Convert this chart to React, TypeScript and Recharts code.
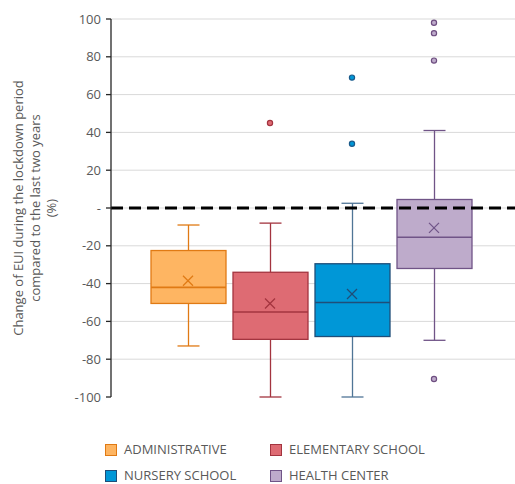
import { ComposedChart, Bar, Scatter, XAxis, YAxis, ReferenceLine, CartesianGrid } from "recharts";

const categories = ["ADMINISTRATIVE", "ELEMENTARY SCHOOL", "NURSERY SCHOOL", "HEALTH CENTER"];
const minValues = [-73, -100, -100, -70];
const q1Values = [-50.5, -69.5, -68, -32];
const medianValues = [-42, -55, -50, -15.5];
const q3Values = [-22.5, -34, -29.5, 4.5];
const maxValues = [-9, -8, 2.5, 41];
const meanValues = [-38.5, -50.5, -45.5, -10.5];

// outliers: category index + value
const outlierCategory = [1, 2, 2, 3, 3, 3, 3];
const outlierValues = [45, 69, 34, 98, 92.5, 78, -90.5];

const yTicks = [-100, -80, -60, -40, -20, 0, 20, 40, 60, 80, 100];
const gridValues = [-80, -60, -40, -20, 0, 20, 40, 60, 80, 100];

const fills = ["#FEB562", "#DE6B73", "#0097D7", "#BEABCB"];
const strokes = ["#E07A14", "#A3343F", "#1F4E79", "#705487"];
const whiskerStrokes = ["#E07A14", "#A3343F", "#4F7596", "#705487"];
const dotStrokes = ["#E07A14", "#A3343F", "#1A5A8A", "#6E4E80"];

const data = categories.map((name, i) => ({
  name,
  idx: i,
  min: minValues[i],
  q1: q1Values[i],
  median: medianValues[i],
  q3: q3Values[i],
  max: maxValues[i],
  mean: meanValues[i],
}));

const outlierData = outlierCategory.map((c, i) => ({
  name: categories[c],
  idx: c,
  value: outlierValues[i],
}));

const FONT = "'Open Sans', sans-serif";
const TEXT = "#595959";

const BoxShape = (props: any) => {
  const { x, y, width, height, payload } = props;
  if (payload == null) return null;
  const top = Math.min(y, y + height);
  const h = Math.abs(height);
  const span = payload.max - payload.min;
  const yOf = (v: number) => top + ((payload.max - v) / span) * h;
  const cx = x + width / 2;
  const i = payload.idx;
  const capHalf = 11;
  return (
    <g>
      <line x1={cx} x2={cx} y1={yOf(payload.max)} y2={yOf(payload.q3)} stroke={whiskerStrokes[i]} strokeWidth={1.3} />
      <line x1={cx} x2={cx} y1={yOf(payload.q1)} y2={yOf(payload.min)} stroke={whiskerStrokes[i]} strokeWidth={1.3} />
      <line x1={cx - capHalf} x2={cx + capHalf} y1={yOf(payload.max)} y2={yOf(payload.max)} stroke={whiskerStrokes[i]} strokeWidth={1.3} />
      <line x1={cx - capHalf} x2={cx + capHalf} y1={yOf(payload.min)} y2={yOf(payload.min)} stroke={whiskerStrokes[i]} strokeWidth={1.3} />
      <rect
        x={x}
        y={yOf(payload.q3)}
        width={width}
        height={yOf(payload.q1) - yOf(payload.q3)}
        fill={fills[i]}
        stroke={strokes[i]}
        strokeWidth={1.3}
      />
      <line x1={x} x2={x + width} y1={yOf(payload.median)} y2={yOf(payload.median)} stroke={strokes[i]} strokeWidth={1.6} />
    </g>
  );
};

const MeanShape = (props: any) => {
  const { cx, cy, payload } = props;
  const s = 5;
  const c = strokes[payload.idx];
  return (
    <g>
      <line x1={cx - s} y1={cy - s} x2={cx + s} y2={cy + s} stroke={c} strokeWidth={1.3} />
      <line x1={cx - s} y1={cy + s} x2={cx + s} y2={cy - s} stroke={c} strokeWidth={1.3} />
    </g>
  );
};

const OutlierShape = (props: any) => {
  const { cx, cy, payload } = props;
  return <circle cx={cx} cy={cy} r={2.6} fill={fills[payload.idx]} stroke={dotStrokes[payload.idx]} strokeWidth={1.2} />;
};

const YLabel = (props: any) => {
  const vb = props.viewBox || { x: 0, y: 19, width: 111, height: 378 };
  const cx = vb.x + 35;
  const cy = vb.y + vb.height / 2;
  return (
    <text
      transform={`rotate(-90, ${cx}, ${cy})`}
      x={cx}
      y={cy}
      textAnchor="middle"
      fill={TEXT}
      fontFamily={FONT}
      fontSize={13}
    >
      <tspan x={cx} dy={-12}>Change of EUI during the lockdown period</tspan>
      <tspan x={cx} dy={16.5}>compared to the last two years</tspan>
      <tspan x={cx} dy={16.5}>(%)</tspan>
    </text>
  );
};

const legendItems = [
  { label: "ADMINISTRATIVE", i: 0, left: 105, top: 442 },
  { label: "ELEMENTARY SCHOOL", i: 1, left: 270, top: 442 },
  { label: "NURSERY SCHOOL", i: 2, left: 105, top: 468 },
  { label: "HEALTH CENTER", i: 3, left: 270, top: 468 },
];

export default function App() {
  return (
    <div style={{ position: "absolute", left: 0, top: 0, width: 515, height: 484 }}>
      <ComposedChart
        width={515}
        height={484}
        data={data}
        margin={{ top: 19, right: 0, left: 0, bottom: 87 }}
      >
        <CartesianGrid vertical={false} horizontalValues={gridValues} stroke="#D9D9D9" strokeWidth={1} />
        <XAxis
          dataKey="name"
          type="category"
          allowDuplicatedCategory={false}
          hide
          padding={{ left: 36, right: 40 }}
        />
        <YAxis
          type="number"
          domain={[-100, 100]}
          ticks={yTicks}
          interval={0}
          width={111}
          tickSize={5}
          tickMargin={5}
          tickFormatter={(v: number) => (v === 0 ? "-" : String(v))}
          axisLine={{ stroke: "#262626", strokeWidth: 1.3 }}
          tickLine={{ stroke: "#262626", strokeWidth: 1.3 }}
          tick={{ fill: TEXT, fontSize: 13, fontFamily: FONT }}
          label={{ content: (p: any) => <YLabel {...p} /> }}
        />
        <Bar
          dataKey={(d: any) => [d.min, d.max]}
          barSize={75}
          shape={(p: any) => <BoxShape {...p} />}
          isAnimationActive={false}
        />
        <Scatter dataKey="mean" shape={(p: any) => <MeanShape {...p} />} isAnimationActive={false} />
        <Scatter data={outlierData} dataKey="value" shape={(p: any) => <OutlierShape {...p} />} isAnimationActive={false} />
        <ReferenceLine y={0} stroke="#000" strokeWidth={3} strokeDasharray="12 6" />
      </ComposedChart>
      {legendItems.map((it) => (
        <div
          key={it.label}
          style={{
            position: "absolute",
            left: it.left,
            top: it.top,
            display: "flex",
            alignItems: "center",
            fontFamily: FONT,
            fontSize: 13,
            color: TEXT,
            lineHeight: "15px",
          }}
        >
          <span
            style={{
              display: "inline-block",
              width: 10,
              height: 10,
              background: fills[it.i],
              border: `1px solid ${strokes[it.i]}`,
              marginRight: 7,
            }}
          />
          {it.label}
        </div>
      ))}
    </div>
  );
}
